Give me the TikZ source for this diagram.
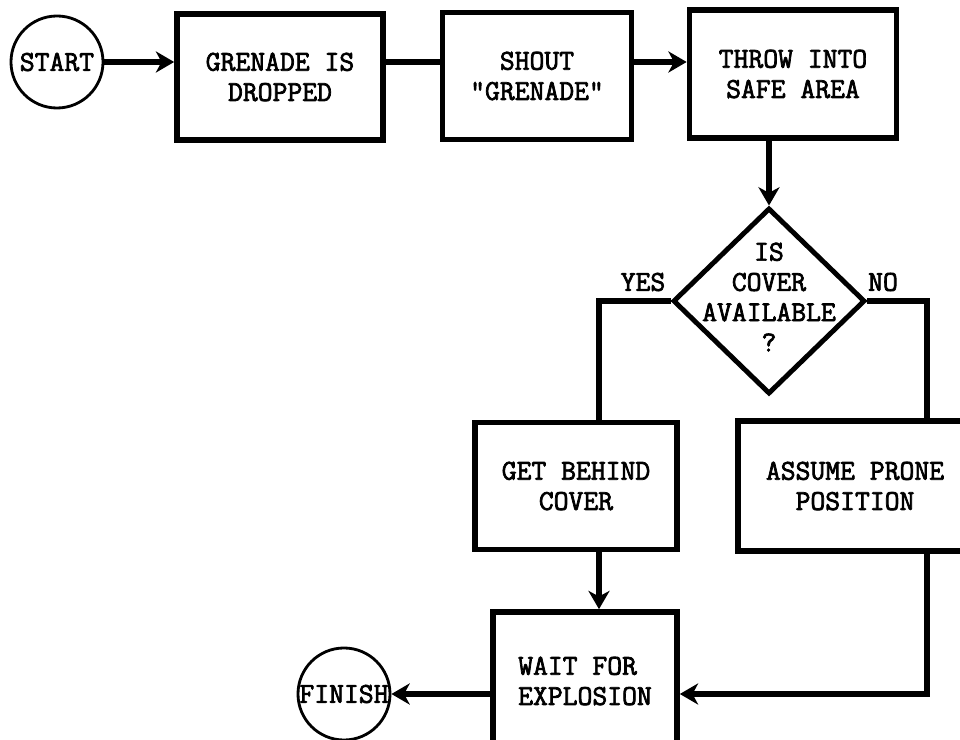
\documentclass[tikz,border=0pt]{standalone}
\usepackage{fontspec}
\setmonofont[AutoFakeBold=2.5]{Latin Modern Mono}
\usetikzlibrary{
    arrows.meta,
    shapes.geometric
}

\begin{document}
\begin{tikzpicture}[x=0.025cm, y=-0.025cm,
    typed/.style={font=\ttfamily\bfseries\fontsize{20.5}{21.5}\selectfont},
    actbox/.style={typed, draw, line width=4pt, inner sep=0pt, align=center},
    termcirc/.style={typed, draw, circle, line width=2pt, inner sep=0pt, minimum size=2.3cm},
    decide/.style={draw, diamond, line width=3.5pt, inner sep=0pt, minimum width=4.8cm, minimum height=4.65cm},
    link/.style={line width=4pt},
    flow/.style={line width=4pt, -{Stealth[length=13pt, width=15pt, inset=4pt]}}
]

% Page frame
\clip (0,0) rectangle (960,740);

% Top row
\node[termcirc] (start) at (57,62) {START};
\node[actbox, minimum width=5.15cm, minimum height=3.15cm] (drop) at (280,77) {GRENADE IS\\DROPPED};
\node[actbox, minimum width=4.725cm, minimum height=3.175cm] (shout) at (537,76) {SHOUT\\"GRENADE"};
\node[actbox, minimum width=5.175cm, minimum height=3.2cm] (throw) at (793,74) {THROW INTO\\SAFE AREA};

% Decision
\node[decide] (cover) at (769,301) {};
\node[typed, align=center] (coverq) at (769,297) {IS\\COVER\\AVAILABLE\\?};
\node[typed] (yes) at (643,282) {YES};
\node[typed] (no) at (883,282) {NO};

% Branches
\coordinate (yescol) at (599,0);
\coordinate (nocol) at (927,0);
\node[actbox, minimum width=5.05cm, minimum height=3.175cm] (get) at (576,486) {GET BEHIND\\COVER};
\node[actbox, minimum width=5.85cm, minimum height=3.25cm] (prone) at (855,486) {ASSUME PRONE\\POSITION};
\node[actbox, align=left, minimum width=4.6cm, minimum height=3.45cm] (wait) at (585,681) {WAIT FOR\\EXPLOSION};
\node[termcirc] (finish) at (344,694) {FINISH};

% Connectors
\draw[flow] (start) -- (drop.west |- start);
\draw[link] (drop.east |- start) -- (shout.west |- start);
\draw[flow] (shout.east |- start) -- (throw.west |- start);
\draw[flow] (throw.south -| cover) -- (cover.north);
\draw[link] (cover.west) -| (yescol |- get.north);
\draw[link] (cover.east) -| (nocol |- prone.north);
\draw[flow] (yescol |- get.south) -- (yescol |- wait.north);
\draw[flow] (nocol |- prone.south) |- (wait.east |- finish);
\draw[flow] (wait.west |- finish) -- (finish);

\end{tikzpicture}
\end{document}
